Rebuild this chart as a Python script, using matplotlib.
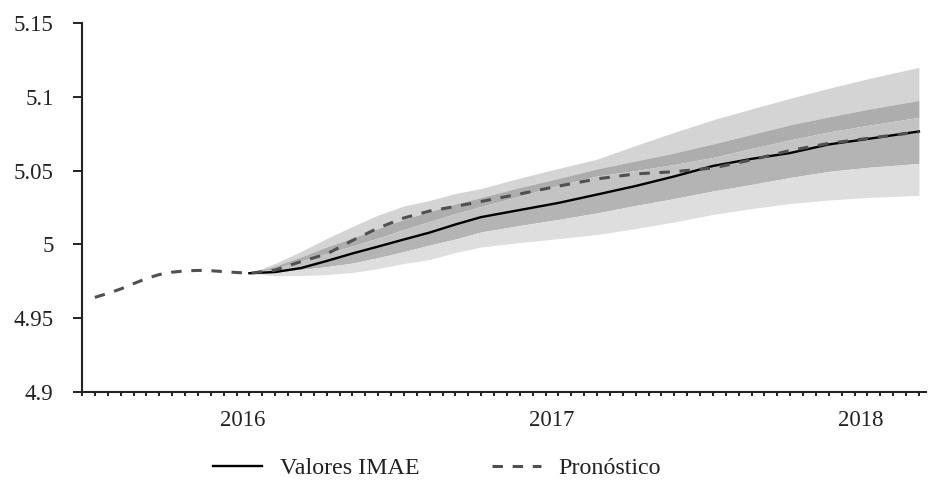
import numpy as np
import matplotlib
matplotlib.use("Agg")
import matplotlib.pyplot as plt

plt.rcParams['font.family'] = ['Liberation Serif', 'DejaVu Serif']
plt.rcParams['lines.scale_dashes'] = False

# eje x: cada marca es un periodo, las etiquetas de año van entre marcas
hist_t = [1, 2, 3, 4, 5, 6, 7, 8, 9, 10, 11, 12]
hist_val = [4.9640, 4.9667, 4.9697, 4.9733, 4.9768, 4.9795, 4.9811, 4.9820,
            4.9823, 4.9821, 4.9815, 4.9809]

fc_t = [13, 15, 17, 19, 21, 23, 25, 27, 29, 31, 34, 37, 40, 43, 46, 49, 52, 55, 58, 61, 65]
imae = [4.9804, 4.9812, 4.9839, 4.9887, 4.9938, 4.9985, 5.0033, 5.0080, 5.0135, 5.0185,
        5.0233, 5.0281, 5.0338, 5.0396, 5.0461, 5.0532, 5.0580, 5.0620, 5.0678, 5.0715, 5.0766]
pronostico = [4.9804, 4.9825, 4.9883, 4.9934, 5.0026, 5.0111, 5.0179, 5.0226, 5.0257, 5.0291,
              5.0342, 5.0395, 5.0444, 5.0478, 5.0493, 5.0518, 5.0573, 5.0637, 5.0685, 5.0719, 5.0763]

# bandas del abanico
hi1 = [4.9804, 4.9870, 4.9951, 5.0039, 5.0121, 5.0199, 5.0260, 5.0298, 5.0345, 5.0379,
       5.0450, 5.0515, 5.0578, 5.0671, 5.0760, 5.0845, 5.0919, 5.0991, 5.1059, 5.1123, 5.1201]
hi2 = [4.9804, 4.9853, 4.9914, 4.9982, 5.0043, 5.0107, 5.0169, 5.0223, 5.0274, 5.0318,
       5.0386, 5.0447, 5.0512, 5.0566, 5.0620, 5.0681, 5.0746, 5.0811, 5.0865, 5.0916, 5.0977]
hi3 = [4.9804, 4.9836, 4.9887, 4.9938, 4.9989, 5.0043, 5.0101, 5.0155, 5.0209, 5.0257,
       5.0328, 5.0400, 5.0464, 5.0501, 5.0542, 5.0590, 5.0651, 5.0709, 5.0763, 5.0807, 5.0862]
lo2 = [4.9804, 4.9809, 4.9829, 4.9849, 4.9873, 4.9910, 4.9951, 4.9995, 5.0036, 5.0084,
       5.0128, 5.0169, 5.0213, 5.0264, 5.0311, 5.0362, 5.0406, 5.0454, 5.0495, 5.0522, 5.0549]
lo1 = [4.9804, 4.9788, 4.9788, 4.9795, 4.9809, 4.9836, 4.9870, 4.9897, 4.9944, 4.9982,
       5.0012, 5.0039, 5.0067, 5.0107, 5.0152, 5.0203, 5.0243, 5.0277, 5.0301, 5.0318, 5.0332]

year_pos = [12.5, 36.5, 60.5]
year_labels = ['2016', '2017', '2018']
y_ticks = [4.9, 4.95, 5.0, 5.05, 5.1, 5.15]
y_labels = ['4.9', '4.95', '5', '5.05', '5.1', '5.15']

fig = plt.figure(figsize=(9.29, 4.82), dpi=100)
ax = fig.add_axes([82 / 929, 1 - 391.7 / 482, (926 - 82) / 929, (391.7 - 23.3) / 482])

# abanico
ax.fill_between(fc_t, hi2, hi1, color='#d4d4d4', lw=0)
ax.fill_between(fc_t, hi3, hi2, color='#adadad', lw=0)
ax.fill_between(fc_t, imae, hi3, color='#c3c3c3', lw=0)
ax.fill_between(fc_t, lo2, imae, color='#b4b4b4', lw=0)
ax.fill_between(fc_t, lo1, lo2, color='#dedede', lw=0)

ax.plot(fc_t, imae, color='black', lw=1.7, label='Valores IMAE')
ax.plot(hist_t + fc_t, hist_val + pronostico, color='#505050', lw=2.2,
        dashes=(7.5, 7), label='Pronóstico')

ax.set_xlim(0, 65.55)
ax.set_ylim(4.9, 5.15)
ax.set_xticks(np.arange(0, 66))
ax.set_xticklabels([])
ax.set_xticks(year_pos, year_labels, minor=True)
ax.tick_params(axis='x', which='major', direction='out', length=3, width=1.4, color='#222222')
ax.tick_params(axis='x', which='minor', length=0, pad=13.5, labelsize=16.5, labelcolor='#222222')
ax.set_yticks(y_ticks, y_labels)
ax.tick_params(axis='y', direction='out', length=6.5, width=1.4, pad=14,
               labelsize=16.5, labelcolor='#222222', color='#222222')

for s in ['top', 'right']:
    ax.spines[s].set_visible(False)
for s in ['left', 'bottom']:
    ax.spines[s].set_linewidth(1.5)
    ax.spines[s].set_color('#222222')

fig.legend(loc='center', bbox_to_anchor=(437 / 929, 1 - 468 / 482), ncol=2, frameon=False,
           fontsize=17.3, handlelength=2.04, handletextpad=0.75, columnspacing=3.0,
           labelcolor='#222222')

fig.savefig('out.png', dpi=100)
